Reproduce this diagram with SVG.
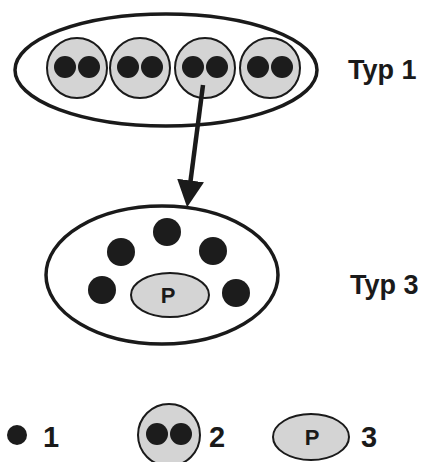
<svg xmlns="http://www.w3.org/2000/svg" width="424" height="462" viewBox="0 0 424 462">
<defs>
<style>
.outer{fill:#fff;stroke:#1a1a1a;stroke-width:3.5}
.cell{fill:#d4d4d4;stroke:#1a1a1a;stroke-width:2}
.dot{fill:#1c1c1c}
.lbl{font-family:"Liberation Sans",Arial,sans-serif;font-weight:bold;fill:#1a1a1a}
.conn{stroke:#1a1a1a;stroke-width:4.5;fill:none}
</style>
<marker id="ah" markerWidth="6" markerHeight="6" refX="1" refY="3" orient="auto" markerUnits="strokeWidth" viewBox="0 0 6 6">
<path d="M0,0 L6,3 L0,6 Z" fill="#1a1a1a"/>
</marker>
</defs>
<rect width="424" height="462" fill="#fff"/>
<g id="typ1">
<ellipse class="outer" cx="166" cy="70" rx="151" ry="56"/>
<g id="pair1"><circle class="cell" cx="77" cy="68" r="30"/><circle class="dot" cx="65" cy="67" r="11"/><circle class="dot" cx="89" cy="67" r="11"/></g>
<g id="pair2"><circle class="cell" cx="140" cy="68" r="30"/><circle class="dot" cx="128" cy="67" r="11"/><circle class="dot" cx="152" cy="67" r="11"/></g>
<g id="pair3"><circle class="cell" cx="205" cy="68" r="30"/><circle class="dot" cx="193" cy="67" r="11"/><circle class="dot" cx="217" cy="67" r="11"/></g>
<g id="pair4"><circle class="cell" cx="270" cy="68" r="30"/><circle class="dot" cx="258" cy="67" r="11"/><circle class="dot" cx="282" cy="67" r="11"/></g>
<text class="lbl" x="348" y="79" font-size="27">Typ 1</text>
</g>
<g id="connectors">
<line class="conn" x1="203" y1="85" x2="190" y2="185" marker-end="url(#ah)"/>
</g>
<g id="typ3">
<ellipse class="outer" cx="162" cy="275" rx="116" ry="69"/>
<circle class="dot" cx="167" cy="232" r="14"/>
<circle class="dot" cx="121" cy="252" r="14"/>
<circle class="dot" cx="213" cy="251" r="14"/>
<circle class="dot" cx="102" cy="290" r="14"/>
<circle class="dot" cx="236" cy="293" r="14"/>
<ellipse class="cell" cx="170" cy="295" rx="39" ry="22"/>
<text class="lbl" x="168" y="303" font-size="22" text-anchor="middle">P</text>
<text class="lbl" x="350" y="294" font-size="27">Typ 3</text>
</g>
<g id="legend1">
<circle class="dot" cx="17" cy="435" r="10"/>
<text class="lbl" x="43" y="447" font-size="29">1</text>
</g>
<g id="legend2">
<circle class="cell" cx="169" cy="435" r="31"/>
<circle class="dot" cx="157" cy="434" r="11"/>
<circle class="dot" cx="181" cy="434" r="11"/>
<text class="lbl" x="209" y="447" font-size="29">2</text>
</g>
<g id="legend3">
<ellipse class="cell" cx="311" cy="437" rx="38" ry="23"/>
<text class="lbl" x="312" y="445" font-size="22" text-anchor="middle">P</text>
<text class="lbl" x="361" y="447" font-size="29">3</text>
</g>
</svg>
